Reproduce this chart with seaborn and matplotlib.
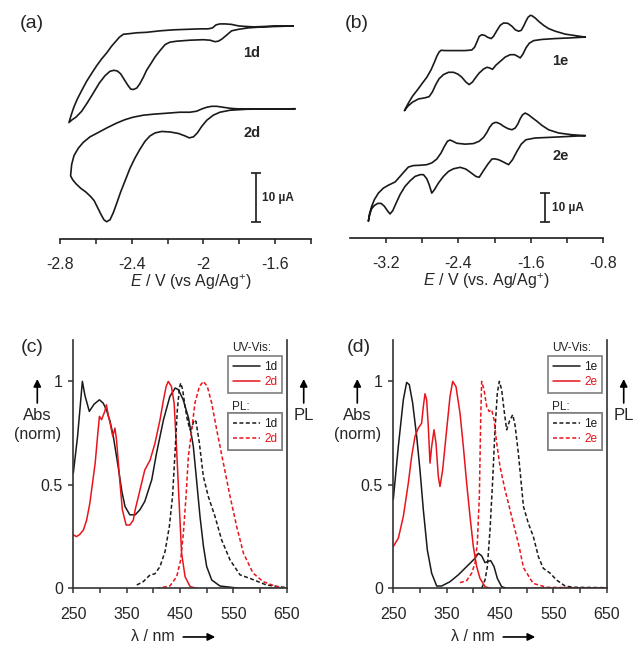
import pandas as pd
import seaborn as sns
import matplotlib.pyplot as plt

# ---------------- (a) CV of 1d and 2d (E in V vs Ag/Ag+, current in uA incl. offset)
cv_1d_E = [-1.499, -1.573, -1.647, -1.722, -1.768, -1.805, -1.843, -1.880, -1.908, -1.930,
           -1.949, -1.973, -2.019, -2.094, -2.168, -2.242, -2.317, -2.372, -2.419, -2.447,
           -2.469, -2.488, -2.512, -2.540, -2.568, -2.596, -2.623, -2.651, -2.679, -2.703,
           -2.722, -2.737, -2.750,
           -2.735, -2.711, -2.679, -2.648, -2.614, -2.581, -2.549, -2.521, -2.499, -2.480,
           -2.462, -2.443, -2.424, -2.406, -2.391, -2.372, -2.354, -2.335, -2.317, -2.294,
           -2.270, -2.242, -2.214, -2.187, -2.149, -2.075, -2.001, -1.963, -1.936, -1.917,
           -1.898, -1.870, -1.843, -1.805, -1.750, -1.666, -1.573, -1.499]
cv_1d_I = [43.2, 43.2, 43.1, 43.0, 43.1, 43.2, 43.5, 43.6, 43.6, 43.4,
           42.8, 42.6, 42.6, 42.5, 42.4, 42.2, 41.9, 41.8, 41.6, 41.5,
           40.9, 40.1, 39.1, 37.7, 36.5, 35.1, 33.6, 32.0, 30.1, 28.4,
           26.8, 25.2, 23.6,
           24.1, 24.7, 25.9, 27.6, 29.6, 31.6, 33.1, 34.0, 34.2, 34.05,
           33.5, 32.4, 31.3, 30.4, 30.3, 30.6, 31.5, 32.8, 34.2, 35.5,
           36.9, 38.2, 39.4, 39.9, 40.1, 40.3, 40.4, 40.3, 40.0, 40.1,
           40.5, 41.35, 42.2, 42.5, 42.8, 43.0, 43.1, 43.2]

cv_2d_E = [-1.489, -1.573, -1.666, -1.759, -1.815, -1.852, -1.889, -1.926, -1.954, -1.982,
           -2.010, -2.038, -2.075, -2.131, -2.205, -2.279, -2.335, -2.391, -2.437, -2.484,
           -2.540, -2.586, -2.633, -2.670, -2.698, -2.722, -2.735, -2.741,
           -2.729, -2.711, -2.685, -2.655, -2.629, -2.610, -2.592, -2.573, -2.555, -2.540,
           -2.521, -2.503, -2.484, -2.462, -2.437, -2.410, -2.382, -2.354, -2.326, -2.298,
           -2.270, -2.233, -2.187, -2.140, -2.103, -2.079, -2.056, -2.034, -2.010, -1.982,
           -1.945, -1.908, -1.852, -1.759, -1.647, -1.489]
cv_2d_I = [26.4, 26.35, 26.35, 26.35, 26.4, 26.5, 26.7, 26.9, 26.9, 26.7,
           26.35, 25.9, 25.7, 25.7, 25.5, 25.3, 25.1, 24.7, 24.2, 23.5,
           22.5, 21.6, 20.7, 19.6, 18.4, 16.9, 15.1, 12.8,
           12.0, 11.2, 10.3, 9.5, 8.6, 7.8, 6.5, 5.1, 3.9, 3.5,
           3.9, 5.3, 7.2, 9.5, 11.8, 14.3, 16.4, 18.2, 19.8, 20.9,
           21.5, 21.8, 21.7, 21.4, 20.9, 20.5, 20.7, 21.5, 22.8, 24.05,
           25.1, 25.7, 26.1, 26.3, 26.35, 26.4]

# ---------------- (b) CV of 1e and 2e
cv_1e_E = [-0.996, -1.106, -1.217, -1.328, -1.402, -1.457, -1.513, -1.550, -1.587, -1.605,
           -1.631, -1.653, -1.679, -1.705, -1.734, -1.771, -1.808, -1.853, -1.901, -1.938,
           -1.975, -2.012, -2.037, -2.074, -2.111, -2.141, -2.170, -2.196, -2.222, -2.252,
           -2.326, -2.436, -2.547, -2.592, -2.614, -2.640, -2.665, -2.702, -2.750, -2.806,
           -2.861, -2.909, -2.954, -2.998,
           -2.961, -2.909, -2.843, -2.769, -2.724, -2.688, -2.651, -2.614, -2.566, -2.510,
           -2.455, -2.407, -2.362, -2.318, -2.281, -2.244, -2.207, -2.170, -2.122, -2.085,
           -2.056, -2.023, -1.986, -1.938, -1.882, -1.827, -1.779, -1.742, -1.716, -1.686,
           -1.653, -1.616, -1.568, -1.476, -1.328, -1.180, -0.996]
cv_1e_I = [68.5, 69.0, 69.5, 70.5, 71.4, 72.5, 73.9, 75.0, 75.8, 75.9,
           75.2, 73.9, 72.2, 70.8, 70.5, 71.0, 72.2, 73.2, 73.3, 72.5,
           70.7, 68.75, 68.0, 68.4, 69.1, 69.3, 68.75, 66.8, 65.0, 64.1,
           63.9, 63.9, 63.9, 64.0, 63.4, 61.9, 60.0, 57.4, 54.8, 52.5,
           50.2, 48.3, 46.0, 43.4,
           44.9, 46.3, 47.4, 47.8, 48.2, 49.8, 52.3, 54.3, 55.7, 56.5,
           56.5, 55.9, 54.8, 53.2, 52.3, 53.2, 54.8, 56.25, 57.6, 58.2,
           58.0, 57.5, 58.9, 60.2, 61.7, 62.5, 62.5, 61.9, 61.4, 62.7,
           64.8, 66.4, 67.3, 67.7, 68.0, 68.2, 68.5]

cv_2e_E = [-0.996, -1.143, -1.291, -1.402, -1.476, -1.531, -1.587, -1.624, -1.661, -1.690,
           -1.716, -1.742, -1.771, -1.808, -1.853, -1.901, -1.938, -1.975, -1.993, -2.023,
           -2.056, -2.085, -2.122, -2.170, -2.233, -2.326, -2.418, -2.462, -2.492, -2.521,
           -2.555, -2.592, -2.640, -2.695, -2.750, -2.824, -2.898, -2.954, -2.998, -3.046,
           -3.101, -3.175, -3.231, -3.286, -3.330, -3.360, -3.382, -3.397,
           -3.382, -3.360, -3.330, -3.293, -3.256, -3.219, -3.186, -3.157, -3.127, -3.094,
           -3.046, -2.991, -2.935, -2.880, -2.824, -2.787, -2.750, -2.724, -2.695, -2.665,
           -2.621, -2.566, -2.510, -2.455, -2.381, -2.318, -2.259, -2.207, -2.170, -2.122,
           -2.074, -2.030, -2.001, -1.956, -1.901, -1.845, -1.801, -1.753, -1.705, -1.653,
           -1.550, -1.328, -0.996]
cv_2e_I = [34.9, 35.2, 35.8, 36.9, 38.4, 39.8, 41.1, 42.0, 42.6, 42.0,
           40.7, 38.9, 37.5, 36.9, 37.3, 38.1, 38.9, 39.4, 39.4, 39.0,
           37.7, 36.0, 34.3, 33.0, 32.2, 32.0, 32.3, 33.0, 33.4, 33.0,
           31.25, 29.0, 26.9, 25.6, 25.0, 24.8, 24.7, 24.2, 22.7, 21.0,
           19.1, 18.0, 17.0, 15.3, 13.1, 10.8, 8.5, 5.7,
           8.0, 10.0, 11.1, 11.8, 11.8, 10.8, 9.3, 8.2, 9.3, 11.6,
           14.8, 17.6, 19.5, 21.0, 21.6, 21.6, 20.2, 18.2, 15.3, 16.5,
           18.75, 21.0, 22.7, 23.6, 24.1, 23.5, 22.2, 21.0, 20.7, 23.0,
           25.2, 26.9, 27.0, 26.7, 25.9, 25.0, 26.7, 29.5, 32.0, 33.5,
           34.1, 34.4, 34.9]

# ---------------- (c) UV-Vis / PL of 1d, 2d (normalised)
abs_1d_wl = [250, 258, 267, 272, 280, 289, 299, 306, 312, 319, 325, 334, 341, 347, 356, 366, 375,
             384, 397, 406, 419, 431, 441, 447, 456, 466, 475, 481, 487.5, 494, 500, 509.5, 525,
             562, 650]
abs_1d = [0.556, 0.734, 1.0, 0.93, 0.855, 0.89, 0.911, 0.895, 0.863, 0.806, 0.734, 0.589, 0.468,
          0.395, 0.355, 0.355, 0.38, 0.42, 0.524, 0.653, 0.814, 0.927, 0.968, 0.96, 0.911, 0.823,
          0.685, 0.524, 0.347, 0.202, 0.105, 0.04, 0.011, 0.0, 0.0]
abs_2d_wl = [250, 256, 262, 269, 275, 281, 291, 296, 299, 303, 309, 312, 316, 319, 324, 328, 331,
             337, 342, 349, 356, 362.5, 366, 372, 378, 384, 394, 403, 412.5, 419, 424, 428, 434,
             439, 444, 449, 453, 459.5, 469, 481]
abs_2d = [0.258, 0.25, 0.26, 0.282, 0.33, 0.411, 0.605, 0.75, 0.831, 0.815, 0.855, 0.887, 0.83,
          0.798, 0.734, 0.774, 0.718, 0.524, 0.379, 0.306, 0.306, 0.33, 0.38, 0.443, 0.508, 0.572,
          0.62, 0.70, 0.814, 0.91, 0.975, 1.0, 0.975, 0.895, 0.653, 0.379, 0.17, 0.056, 0.008, 0.0]
pl_1d_wl = [369, 381, 394, 403, 412.5, 422, 430, 436, 440.6, 445, 449, 451.3, 455, 459.4, 463.8,
            468.8, 472, 476.3, 480, 486.3, 493.8, 503, 515.6, 528, 543.8, 562.5, 581, 612, 650]
pl_1d = [0.016, 0.032, 0.065, 0.07, 0.105, 0.178, 0.298, 0.444, 0.653, 0.863, 0.968, 0.992, 0.96,
         0.879, 0.814, 0.766, 0.774, 0.814, 0.806, 0.702, 0.54, 0.444, 0.347, 0.234, 0.137, 0.065,
         0.048, 0.016, 0.003]
pl_2d_wl = [406, 431, 443.8, 451.3, 456.3, 461.3, 465.7, 472, 478, 486.3, 493.8, 501.3, 509.4,
            518.8, 531.3, 543.8, 556.3, 569, 587, 606, 631, 650]
pl_2d = [0.0, 0.011, 0.056, 0.137, 0.266, 0.444, 0.637, 0.766, 0.895, 0.975, 1.0, 0.975, 0.895,
         0.766, 0.605, 0.444, 0.298, 0.169, 0.073, 0.032, 0.008, 0.0]

# ---------------- (d) UV-Vis / PL of 1e, 2e (normalised)
abs_1e_wl = [250, 259.4, 268.8, 275, 280, 286.3, 293.8, 300, 306.3, 313.8, 321.9, 331.3, 340.6,
             356.3, 371.9, 384.4, 393.8, 403.1, 409.4, 415.6, 421.9, 426.3, 432.5, 438.8, 445,
             453, 462.5, 650]
abs_1e = [0.43, 0.685, 0.911, 0.995, 0.984, 0.895, 0.734, 0.572, 0.379, 0.185, 0.073, 0.011,
          0.011, 0.032, 0.065, 0.097, 0.121, 0.145, 0.169, 0.157, 0.124, 0.129, 0.134, 0.105,
          0.048, 0.008, 0.0, 0.0]
abs_2e_wl = [250, 259.4, 268.8, 278.1, 284.4, 290.6, 296.9, 303.1, 306.3, 309.4, 312.5, 315.6,
             318.8, 321.9, 326.3, 330, 334.4, 337.5, 342.5, 350, 356.3, 361.3, 367.5, 375, 381.3,
             387.5, 393.8, 400, 406.3, 412.5, 421.9, 431]
abs_2e = [0.202, 0.242, 0.347, 0.508, 0.637, 0.734, 0.774, 0.798, 0.879, 0.94, 0.911, 0.782,
          0.605, 0.685, 0.766, 0.702, 0.54, 0.492, 0.572, 0.766, 0.927, 1.0, 0.975, 0.847, 0.685,
          0.508, 0.347, 0.202, 0.105, 0.048, 0.008, 0.0]
pl_1e_wl = [415.6, 421.9, 426.3, 431.3, 436.3, 440.6, 445, 448.8, 453.1, 457.5, 462.5, 467.5,
            473.8, 478.1, 484.4, 494, 503, 512.5, 522, 531, 544, 556, 572, 587, 650]
pl_1e = [0.0, 0.040, 0.105, 0.282, 0.524, 0.766, 0.944, 1.0, 0.96, 0.863, 0.766, 0.806, 0.839,
         0.79, 0.653, 0.395, 0.315, 0.25, 0.153, 0.097, 0.073, 0.040, 0.011, 0.005, 0.003]
pl_2e_wl = [375, 387.5, 396.9, 403.1, 407.5, 411.3, 413.8, 415.6, 420, 425, 429.4, 434.4, 438.8,
            443.8, 450, 459.4, 468.8, 478.1, 486, 494, 512, 537, 650]
pl_2e = [0.027, 0.037, 0.073, 0.121, 0.218, 0.444, 0.815, 1.0, 0.96, 0.879, 0.855, 0.863, 0.815,
         0.702, 0.589, 0.476, 0.379, 0.282, 0.2, 0.1, 0.024, 0.005, 0.0]

cv_a_ticks = [-2.8, -2.4, -2.0, -1.6]
cv_a_ticklabels = ["-2.8", "-2.4", "-2", "-1.6"]
cv_a_minor = [-2.6, -2.2, -1.8, -1.4]
cv_b_ticks = [-3.2, -2.4, -1.6, -0.8]
cv_b_ticklabels = ["-3.2", "-2.4", "-1.6", "-0.8"]
cv_b_minor = [-2.8, -2.0, -1.2]
wl_ticks = [250, 350, 450, 550, 650]
wl_minor = [300, 400, 500, 600]
abs_ticks = [0, 0.5, 1]
abs_ticklabels = ["0", "0.5", "1"]

RED = "#e8141c"
INK = "#1a1a1a"

sns.set_theme(style="ticks")
plt.rcParams["font.family"] = ["Liberation Sans", "DejaVu Sans"]
plt.rcParams["mathtext.fontset"] = "custom"
plt.rcParams["mathtext.rm"] = "Liberation Sans"
plt.rcParams["mathtext.it"] = "Liberation Sans:italic"
plt.rcParams["axes.unicode_minus"] = False

W, H = 635, 645
fig = plt.figure(figsize=(W / 100, H / 100), dpi=100)


def px_axes(left, top, right, bottom):
    return fig.add_axes([left / W, 1 - bottom / H, (right - left) / W, (bottom - top) / H])


def fx(x):
    return x / W


def fy(y):
    return 1 - y / H


def cv(ax, E, I):
    df = pd.DataFrame({"E": E, "I": I})
    sns.lineplot(data=df, x="E", y="I", sort=False, estimator=None, color=INK, lw=1.2, ax=ax)


def cv_axes(ax, xlim, ylim, ticks, labels, minor, xlabel, lx):
    ax.set_xlim(*xlim)
    ax.set_ylim(*ylim)
    for s in ["left", "right", "top"]:
        ax.spines[s].set_visible(False)
    ax.spines["bottom"].set_color(INK)
    ax.spines["bottom"].set_linewidth(1.2)
    ax.set_yticks([])
    ax.set_xticks(ticks)
    ax.set_xticklabels(labels)
    ax.set_xticks(minor, minor=True)
    ax.tick_params(axis="x", which="both", direction="out", length=3.5, width=1.1,
                   color=INK, labelsize=11.5, pad=9.5)
    ax.set_ylabel("")
    ax.set_xlabel(xlabel, fontsize=11.5)
    ax.xaxis.set_label_coords(lx, -0.188)
    ax.xaxis.label.set_verticalalignment("center")
    ax.patch.set_alpha(0)


# ---- (a)
ax_a = px_axes(60, 10, 311, 239)
cv(ax_a, cv_1d_E, cv_1d_I)
cv(ax_a, cv_2d_E, cv_2d_I)
cv_axes(ax_a, (-2.8, -1.4), (0, 229 / 4.933), cv_a_ticks, cv_a_ticklabels, cv_a_minor,
        r"$E$ / V (vs Ag/Ag$^{+}$)", 0.52)
ax_a.text(-1.777, 37.7, "1d", fontsize=10.5, fontweight="bold", va="center")
ax_a.text(-1.777, 21.5, "2d", fontsize=10.5, fontweight="bold", va="center")
ax_a.errorbar([-1.707], [8.4], yerr=[5.0], color=INK, lw=1.2, capsize=3.3, capthick=1.2)
ax_a.text(-1.675, 8.4, "10 µA", fontsize=8.5, fontweight="bold", va="center")

# ---- (b)
ax_b = px_axes(350, 10, 603, 238)
cv(ax_b, cv_1e_E, cv_1e_I)
cv(ax_b, cv_2e_E, cv_2e_I)
cv_axes(ax_b, (-3.6, -0.8), (0, 228 / 2.933), cv_b_ticks, cv_b_ticklabels, cv_b_minor,
        r"$E$ / V (vs. Ag/Ag$^{+}$)", 0.538)
ax_b.text(-1.358, 60.5, "1e", fontsize=10.5, fontweight="bold", va="center")
ax_b.text(-1.358, 27.8, "2e", fontsize=10.5, fontweight="bold", va="center")
ax_b.errorbar([-1.44], [10.3], yerr=[5.0], color=INK, lw=1.2, capsize=3.3, capthick=1.2)
ax_b.text(-1.365, 10.3, "10 µA", fontsize=8.5, fontweight="bold", va="center")

DASH = (0, (2.6, 1.6))


def spectra_panel(left, right, curves, names, label_x):
    ax = px_axes(left, 340, right, 588.3)
    lines = []
    for wl, a, color, ls in curves:
        sns.lineplot(x=wl, y=a, color=color, lw=1.1, linestyle=ls, estimator=None, ax=ax)
        lines.append(ax.get_lines()[-1])
    ax.set_xlim(250, 650)
    ax.set_ylim(0, 1.2)
    ax.spines["top"].set_visible(False)
    for s in ["left", "bottom", "right"]:
        ax.spines[s].set_color("#333333")
        ax.spines[s].set_linewidth(1.2)
    ax.set_xticks(wl_ticks)
    ax.set_xticks(wl_minor, minor=True)
    ax.set_yticks(abs_ticks)
    ax.set_yticklabels(abs_ticklabels)
    ax.tick_params(axis="x", which="both", direction="out", length=3.5, width=1.1,
                   color="#333333", labelsize=11.5, pad=10)
    ax.tick_params(axis="y", direction="out", length=3.5, width=1.1, color="#333333",
                   labelsize=11.5, pad=4)
    ax.set_xlabel("")
    ax.set_ylabel("")
    ax.patch.set_alpha(0)

    # legend boxes with their headings above
    lx0 = left + (228 - 73.3)
    fig.text(fx(lx0 + 4), fy(348), "UV-Vis:", fontsize=8.5, va="center", ha="left")
    fig.text(fx(lx0 + 4), fy(407), "PL:", fontsize=8.5, va="center", ha="left")
    for pair, top in [((0, 1), 356), ((2, 3), 413)]:
        leg = ax.legend([lines[i] for i in pair], [names[i] for i in pair],
                        loc="upper left", bbox_to_anchor=(fx(lx0), fy(top)),
                        bbox_transform=fig.transFigure, borderaxespad=0, fontsize=8.5,
                        frameon=True, fancybox=False, framealpha=1, edgecolor="#7f7f7f",
                        handlelength=2.3, handletextpad=0.3, borderpad=0.45,
                        labelspacing=0.22, labelcolor=[INK, RED])
        leg.get_frame().set_linewidth(1.2)
        ax.add_artist(leg)

    # axis captions
    ax.text(label_x, -0.196, "λ / nm", transform=ax.transAxes, ha="center", va="center",
            fontsize=11.5)
    ax.annotate("", xy=(0.665, -0.196), xytext=(0.515, -0.196), xycoords="axes fraction",
                arrowprops=dict(arrowstyle="-|>", color="black", lw=1.2,
                                mutation_scale=11, shrinkA=0, shrinkB=0))
    for xc, txt in [(left - 36, "Abs"), (right + 17, "PL")]:
        fig.text(fx(xc), fy(416), txt, fontsize=12, ha="center", va="center")
        ax.annotate("", xy=(fx(xc), fy(379)), xytext=(fx(xc), fy(403)),
                    xycoords="figure fraction",
                    arrowprops=dict(arrowstyle="-|>", color="black", lw=1.2,
                                    mutation_scale=11, shrinkA=0, shrinkB=0))
    fig.text(fx(left - 36), fy(434), "(norm)", fontsize=11.5, ha="center", va="center")
    return ax


ax_c = spectra_panel(73.3, 286.7,
                     [(abs_1d_wl, abs_1d, INK, "-"), (abs_2d_wl, abs_2d, RED, "-"),
                      (pl_1d_wl, pl_1d, INK, DASH), (pl_2d_wl, pl_2d, RED, DASH)],
                     ["1d", "2d", "1d", "2d"], 0.371)
ax_d = spectra_panel(393.3, 606.7,
                     [(abs_1e_wl, abs_1e, INK, "-"), (abs_2e_wl, abs_2e, RED, "-"),
                      (pl_1e_wl, pl_1e, INK, DASH), (pl_2e_wl, pl_2e, RED, DASH)],
                     ["1e", "2e", "1e", "2e"], 0.371)

for (x, y), tag in zip([(32, 24), (357, 24), (32, 347), (359, 347)], ["(a)", "(b)", "(c)", "(d)"]):
    fig.text(fx(x), fy(y), tag, fontsize=14, ha="center", va="center")

fig.savefig("out.png", dpi=100)
